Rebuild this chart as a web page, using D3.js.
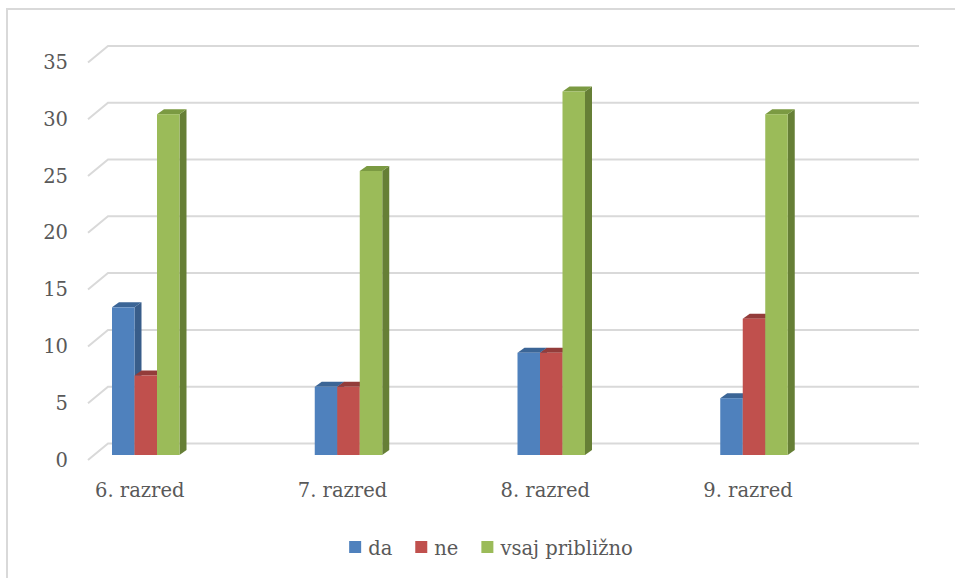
<!DOCTYPE html>
<html>
<head>
<meta charset="utf-8">
<script src="https://cdn.jsdelivr.net/npm/d3@7"></script>
<style>
  html, body { margin: 0; padding: 0; background: #ffffff; }
  svg { display: block; }
  text { font-family: "DejaVu Serif", "Liberation Serif", serif; fill: #595959; }
</style>
</head>
<body>
<svg id="chart" width="955" height="578"></svg>
<script>
// Survey answers per school year
const categories = ["6. razred", "7. razred", "8. razred", "9. razred"];
const seriesNames = ["da", "ne", "vsaj približno"];
const daValues = [13, 6, 9, 5];
const neValues = [7, 6, 9, 12];
const vsajValues = [30, 25, 32, 30];
const yTicks = [0, 5, 10, 15, 20, 25, 30, 35];

const seriesValues = [daValues, neValues, vsajValues];
const palette = [
  { front: "#4f81bd", top: "#3b6596", side: "#385d8a" },
  { front: "#c0504d", top: "#933c3a", side: "#8c3836" },
  { front: "#9bbb59", top: "#7b9a42", side: "#667f36" }
];

const svg = d3.select("#chart");

// Outer chart frame (partly outside the view)
svg.append("rect")
  .attr("x", 7).attr("y", 9)
  .attr("width", 960).attr("height", 600)
  .attr("fill", "none").attr("stroke", "#d9d9d9").attr("stroke-width", 2);

// Plane of the bars; floor front edge and back wall are offsets from it
const plotLeft = 94, plotRight = 905;
const baseY = 455;
const back = { dx: 14, dy: -11.5 };
const front = { dx: -6, dy: 5 };
const depth = { dx: 7, dy: -5 };

const y = d3.scaleLinear().domain([0, 35]).range([baseY, baseY - 397.6]);

const x = d3.scaleBand().domain(categories).range([plotLeft, plotRight]).padding(0);
const inner = d3.scaleBand().domain(seriesNames)
  .range([18, 18 + 67.5]).padding(0);

// Gridlines: slanted floor-to-wall segment plus horizontal line on back wall
const grid = svg.append("g").attr("stroke", "#d9d9d9").attr("stroke-width", 2).attr("fill", "none");
yTicks.forEach(t => {
  const yb = y(t) + back.dy, yf = y(t) + front.dy;
  grid.append("path")
    .attr("d", `M${plotLeft + front.dx},${yf}L${plotLeft + back.dx},${yb}L${plotRight + back.dx},${yb}`);
});

// Y-axis tick labels
svg.append("g").selectAll("text").data(yTicks).join("text")
  .attr("x", 68)
  .attr("y", d => y(d) + front.dy + 1)
  .attr("text-anchor", "end")
  .attr("dominant-baseline", "middle")
  .style("font-size", "19.5px")
  .text(d => d);

// Bars, drawn left to right so each bar hides its neighbour's side face
const bars = svg.append("g");
categories.forEach((cat, ci) => {
  seriesNames.forEach((s, si) => {
    const v = seriesValues[si][ci];
    const x0 = x(cat) + inner(s);
    const x1 = x0 + inner.bandwidth();
    const yt = y(v);
    const c = palette[si];
    const g = bars.append("g");
    // side face
    g.append("path")
      .attr("d", `M${x1},${baseY}L${x1 + depth.dx},${baseY + depth.dy}L${x1 + depth.dx},${yt + depth.dy}L${x1},${yt}Z`)
      .attr("fill", c.side);
    // top face
    g.append("path")
      .attr("d", `M${x0},${yt}L${x0 + depth.dx},${yt + depth.dy}L${x1 + depth.dx},${yt + depth.dy}L${x1},${yt}Z`)
      .attr("fill", c.top);
    // front face
    g.append("rect")
      .attr("x", x0).attr("y", yt)
      .attr("width", x1 - x0).attr("height", baseY - yt)
      .attr("fill", c.front);
  });
});

// Category labels
svg.append("g").selectAll("text").data(categories).join("text")
  .attr("x", d => x(d) + 18 + 67.5 / 2 + front.dx)
  .attr("y", 491)
  .attr("text-anchor", "middle")
  .attr("dominant-baseline", "middle")
  .style("font-size", "19.5px")
  .text(d => d);

// Legend
const legend = svg.append("g");
let lx = 0;
seriesNames.forEach((s, i) => {
  const item = legend.append("g").attr("transform", `translate(${lx},0)`);
  item.append("rect").attr("x", 0).attr("y", 541).attr("width", 12).attr("height", 12)
    .attr("fill", palette[i].front);
  const t = item.append("text").attr("x", 19).attr("y", 555)
    .style("font-size", "19.5px").text(s);
  lx += 19 + t.node().getComputedTextLength() + 23;
});
const legendWidth = lx - 23;
legend.attr("transform", `translate(${491 - legendWidth / 2},0)`);
</script>
</body>
</html>
